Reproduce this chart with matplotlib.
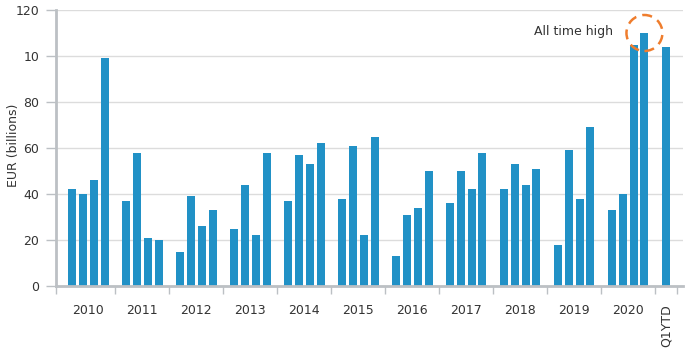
import numpy as np
import matplotlib
matplotlib.use('Agg')
import matplotlib.pyplot as plt
from matplotlib.patches import Ellipse

# === Dane (kwartalnie, EUR mld) ===
years = ['2010', '2011', '2012', '2013', '2014', '2015', '2016',
         '2017', '2018', '2019', '2020']
q_values = [
    [42, 40, 46, 99],
    [37, 58, 21, 20],
    [15, 39, 26, 33],
    [25, 44, 22, 58],
    [37, 57, 53, 62],
    [38, 61, 22, 65],
    [13, 31, 34, 50],
    [36, 50, 42, 58],
    [42, 53, 44, 51],
    [18, 59, 38, 69],
    [33, 40, 105, 110],
]
ytd_label = 'Q1YTD'
ytd_value = 104
y_ticks = [0, 20, 40, 60, 80, 100, 120]
y_tick_labels = ['0', '20', '40', '60', '80', '10', '120']

bar_color = '#2191c6'
grid_color = '#dcdcdc'
axis_color = '#bcc0c4'
text_color = '#333333'

plt.rcParams['font.family'] = ['DejaVu Sans']

fig = plt.figure(figsize=(6.98, 3.5), dpi=100)
ax = fig.add_axes([56 / 698, 1 - 286 / 350, 627 / 698, 276 / 350])

# 5 slotow na rok: 4 kwartaly + przerwa
for g, vals in enumerate(q_values):
    x = g * 5 + np.arange(4)
    ax.bar(x, vals, width=0.74, color=bar_color, zorder=3)
ytd_x = len(years) * 5
ax.bar([ytd_x], [ytd_value], width=0.74, color=bar_color, zorder=3)

ax.set_xlim(-1.5, 56.57)
ax.set_ylim(0, 120)

# etykiety osi X
centers = [g * 5 + 1.5 for g in range(len(years))] + [ytd_x]
ax.set_xticks(centers)
ax.set_xticklabels(years + [ytd_label])
ax.get_xticklabels()[-1].set_rotation(90)
ax.tick_params(axis='x', which='major', length=0, pad=13, labelsize=9,
               labelcolor=text_color)
bounds = [-1.5] + [g * 5 + 4 for g in range(len(years))] + [ytd_x + 1]
ax.set_xticks(bounds, minor=True)
ax.tick_params(axis='x', which='minor', length=6, width=1, color=axis_color)

ax.set_yticks(y_ticks)
ax.set_yticklabels(y_tick_labels)
ax.tick_params(axis='y', length=7, width=1, color=axis_color, pad=5,
               labelsize=9, labelcolor=text_color)
ax.set_ylabel('EUR (billions)', fontsize=9, color=text_color)
ax.yaxis.set_label_coords(-0.057, 0.51)

ax.grid(axis='y', color=grid_color, linewidth=1, zorder=0)
for s in ['top', 'right']:
    ax.spines[s].set_visible(False)
for s in ['left', 'bottom']:
    ax.spines[s].set_color(axis_color)
    ax.spines[s].set_linewidth(2)
    ax.spines[s].set_zorder(4)

# adnotacja
ax.text(50.1, 110.7, 'All time high', ha='right', va='center', fontsize=9,
        color=text_color)
ax.add_patch(Ellipse((53, 110), width=36 / 10.8, height=36 / 2.3, fill=False,
                     edgecolor='#ef7d2d', linewidth=1.8, linestyle=(0, (4, 2.5)),
                     zorder=5, clip_on=False))

fig.savefig('out.png', dpi=100)
